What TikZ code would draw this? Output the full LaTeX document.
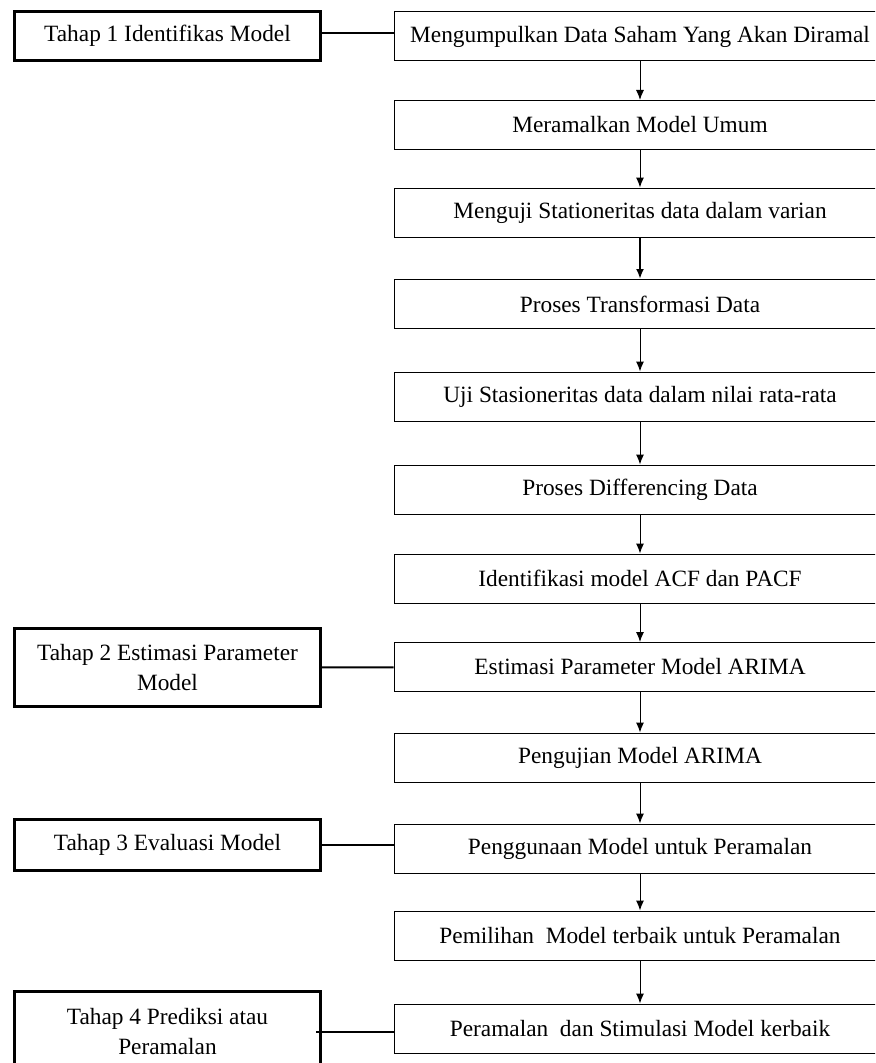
\documentclass[tikz,border=0pt]{standalone}
\usepackage{fontspec}
\setmainfont{Liberation Serif}
\usepackage{tikz}
\usetikzlibrary{positioning,arrows.meta,calc}
\tikzset{
    x=0.75pt,
    y=-0.75pt,
    auto,
    langkah/.style = {
        draw,
        shape=rectangle,
        minimum height=36.75pt,
        minimum width=369pt,
        inner sep=0pt,
        line width=0.75pt,
        font=\fontsize{17.5}{23}\selectfont
    },
    tahap/.style = {
        draw,
        shape=rectangle,
        minimum width=229.5pt,
        inner sep=0pt,
        line width=2.25pt,
        align=center,
        font=\fontsize{17.5}{23}\selectfont
    },
    >={Latex[length=7.5pt,width=6pt]},
}
\begin{document}
\begin{tikzpicture}
            \useasboundingbox (0,0) rectangle (875,1063);
            \clip (0,0) rectangle (875,1063);

            % langkah-langkah di kolom kanan
            \node[langkah] (langkah1) at (640,36.5) {Mengumpulkan Data Saham Yang Akan Diramal};
            \node[langkah] (langkah2) at (640,125) {Meramalkan Model Umum};
            \node[langkah] (langkah3) at (640,212.5) {Menguji Stationeritas data dalam varian};
            \node[langkah] (langkah4) at (640,304) {Proses Transformasi Data};
            \node[langkah] (langkah5) at (640,396.5) {Uji Stasioneritas data dalam nilai rata-rata};
            \node[langkah] (langkah6) at (640,489.5) {Proses Differencing Data};
            \node[langkah] (langkah7) at (640,578.5) {Identifikasi model ACF dan PACF};
            \node[langkah] (langkah8) at (640,667) {Estimasi Parameter Model ARIMA};
            \node[langkah] (langkah9) at (640,757.5) {Pengujian Model ARIMA};
            \node[langkah] (langkah10) at (640,848.5) {Penggunaan Model untuk Peramalan};
            \node[langkah] (langkah11) at (640,935.5) {Pemilihan\ \ Model terbaik untuk Peramalan};
            \node[langkah] (langkah12) at (640,1028.5) {Peramalan\ \ dan Stimulasi Model kerbaik};

            % tahap di kolom kiri
            \node[tahap, minimum height=36.75pt] (tahap1) at (167.5,36) {Tahap 1 Identifikas Model};
            \node[tahap, minimum height=58.5pt] (tahap2) at (167.5,667.5) {Tahap 2 Estimasi Parameter\\Model};
            \node[tahap, minimum height=38.25pt] (tahap3) at (167.5,845) {Tahap 3 Evaluasi Model};
            \node[tahap, minimum height=60pt] (tahap4) at (167.5,1031.5) {Tahap 4 Prediksi atau\\Peramalan};

            \foreach \a/\b in {1/2,2/3,4/5,5/6,6/7,7/8,8/9,9/10,10/11,11/12}
                \path[draw, ->, line width=0.75pt] (langkah\a) -- (langkah\b);
            \path[draw, ->, line width=1.5pt] (langkah3) -- (langkah4);

            \path[draw, line width=1.5pt] (tahap1.east |- 0,33) -- (langkah1.west |- 0,33);
            \path[draw, line width=1.5pt] (tahap2) -- (langkah8);
            \path[draw, line width=1.5pt] (tahap3) -- (tahap3 -| langkah10.west);
            \path[draw, line width=1.5pt] ($(tahap4.east)+(-6,0)$) -- (langkah12.west |- tahap4.east);
        \end{tikzpicture}
\end{document}
